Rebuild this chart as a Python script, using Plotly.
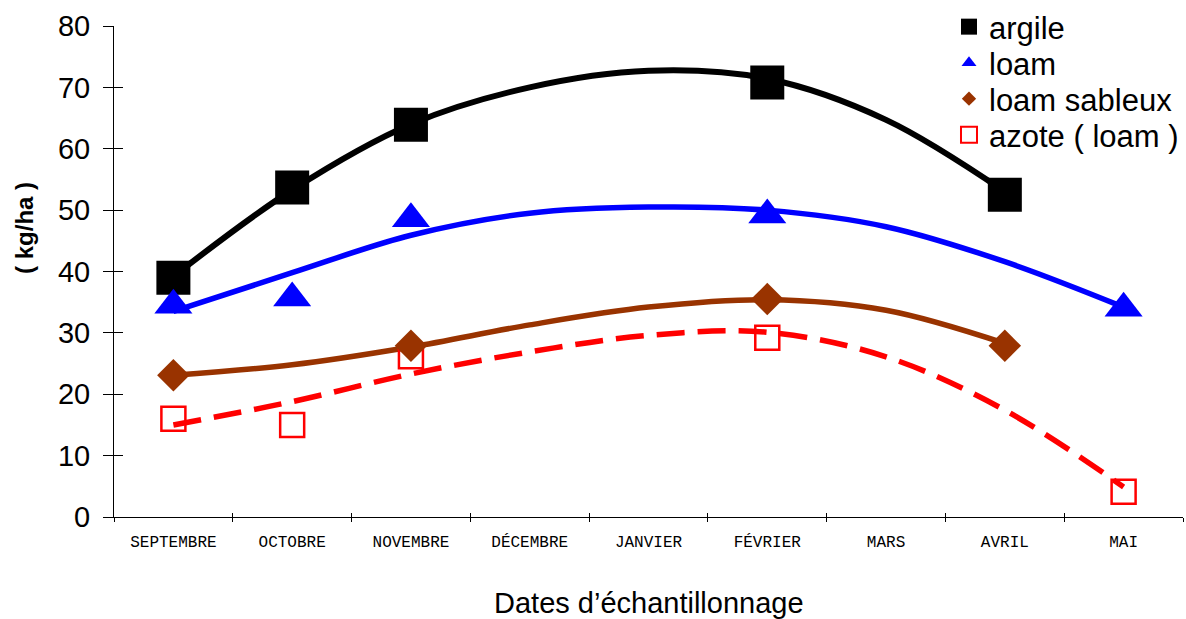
import plotly.graph_objects as go

months = ["SEPTEMBRE", "OCTOBRE", "NOVEMBRE", "DÉCEMBRE", "JANVIER",
          "FÉVRIER", "MARS", "AVRIL", "MAI"]

# measured points
argile_months = ["SEPTEMBRE", "OCTOBRE", "NOVEMBRE", "FÉVRIER", "AVRIL"]
argile_vals = [39.0, 53.7, 63.9, 70.8, 52.5]
loam_months = ["SEPTEMBRE", "OCTOBRE", "NOVEMBRE", "FÉVRIER", "MAI"]
loam_vals = [34.5, 35.7, 48.6, 49.2, 34.0]
sableux_months = ["SEPTEMBRE", "NOVEMBRE", "FÉVRIER", "AVRIL"]
sableux_vals = [23.1, 27.9, 35.5, 27.9]
azote_months = ["SEPTEMBRE", "OCTOBRE", "NOVEMBRE", "FÉVRIER", "MAI"]
azote_vals = [16.0, 15.0, 26.2, 29.2, 4.1]

# trend curves read at each month
argile_trend_months = months[:8]
argile_trend = [39.2, 53.3, 64.0, 70.0, 72.7, 71.4, 64.7, 53.0]
loam_trend_months = months
loam_trend = [33.5, 39.8, 45.9, 49.5, 50.5, 50.0, 47.3, 41.6, 34.2]
sableux_trend_months = months[:8]
sableux_trend = [23.1, 24.8, 27.7, 31.3, 34.2, 35.4, 33.7, 28.3]
azote_trend_months = months
azote_trend = [15.0, 18.8, 23.3, 26.9, 29.6, 30.1, 26.1, 17.4, 4.9]

y_ticks = [0, 10, 20, 30, 40, 50, 60, 70, 80]

idx = {m: i for i, m in enumerate(months)}


def xs(ms):
    return [idx[m] for m in ms]


BLACK = "#000000"
BLUE = "#0000FF"
BROWN = "#993300"
RED = "#FF0000"

fig = go.Figure()

# trend lines
fig.add_trace(go.Scatter(x=xs(argile_trend_months), y=argile_trend, mode="lines",
                         line=dict(color=BLACK, width=6, shape="spline"),
                         showlegend=False, hoverinfo="skip"))
fig.add_trace(go.Scatter(x=xs(loam_trend_months), y=loam_trend, mode="lines",
                         line=dict(color=BLUE, width=5.5, shape="spline"),
                         showlegend=False, hoverinfo="skip"))
fig.add_trace(go.Scatter(x=xs(sableux_trend_months), y=sableux_trend, mode="lines",
                         line=dict(color=BROWN, width=5.5, shape="spline"),
                         showlegend=False, hoverinfo="skip"))
fig.add_trace(go.Scatter(x=xs(azote_trend_months), y=azote_trend, mode="lines",
                         line=dict(color=RED, width=5.5, shape="spline", dash="28px,13px"),
                         showlegend=False, hoverinfo="skip"))

# markers
fig.add_trace(go.Scatter(x=xs(azote_months), y=azote_vals, mode="markers",
                         marker=dict(symbol="square-open", size=24, color=RED,
                                     line=dict(color=RED, width=2.5)),
                         showlegend=False))
fig.add_trace(go.Scatter(x=xs(argile_months), y=argile_vals, mode="markers",
                         marker=dict(symbol="square", size=34, color=BLACK),
                         showlegend=False))
fig.add_trace(go.Scatter(x=xs(loam_months), y=loam_vals, mode="markers",
                         marker=dict(symbol="triangle-up", size=33, color=BLUE),
                         showlegend=False))
fig.add_trace(go.Scatter(x=xs(sableux_months), y=sableux_vals, mode="markers",
                         marker=dict(symbol="diamond", size=25, color=BROWN),
                         showlegend=False))

# legend entries (one legend each, for exact spacing)
fig.add_trace(go.Scatter(x=[None], y=[None], mode="markers", name="argile",
                         legend="legend",
                         marker=dict(symbol="square", size=16, color=BLACK)))
fig.add_trace(go.Scatter(x=[None], y=[None], mode="markers", name="loam",
                         legend="legend2",
                         marker=dict(symbol="triangle-up", size=13, color=BLUE)))
fig.add_trace(go.Scatter(x=[None], y=[None], mode="markers", name="loam sableux",
                         legend="legend3",
                         marker=dict(symbol="diamond", size=11, color=BROWN)))
fig.add_trace(go.Scatter(x=[None], y=[None], mode="markers", name="azote ( loam )",
                         legend="legend4",
                         marker=dict(symbol="square-open", size=16, color=RED,
                                     line=dict(color=RED, width=2))))

# helper trace for overlay axes
fig.add_trace(go.Scatter(x=[None], y=[None], xaxis="x2", yaxis="y2",
                         showlegend=False, hoverinfo="skip"))

boundaries = [i - 0.5 for i in range(len(months) + 1)]


def leg(ypix):
    return dict(x=0.7811, y=(517 - ypix) / 491, xanchor="left", yanchor="middle",
                bgcolor="rgba(0,0,0,0)", font=dict(size=31, color="black"),
                itemsizing="trace")


fig.update_layout(
    width=1186, height=619,
    margin=dict(l=114, r=3, t=26, b=102, autoexpand=False),
    paper_bgcolor="white", plot_bgcolor="white",
    font=dict(family="Liberation Sans, Arial, sans-serif", color="black"),
    showlegend=True,
    legend=leg(27), legend2=leg(63), legend3=leg(99), legend4=leg(135),
    xaxis=dict(range=[-0.5, len(months) - 0.5], tickmode="array",
               tickvals=list(range(len(months))), ticktext=months,
               ticks="", showline=True, linecolor="black", linewidth=1,
               showgrid=False, zeroline=False,
               tickfont=dict(family="Liberation Mono, Courier New, monospace", size=16),
               ticklabelstandoff=10,
               minor=dict(tickmode="array", tickvals=boundaries, ticks="outside",
                          ticklen=4, tickcolor="black", tickwidth=1, showgrid=False)),
    xaxis2=dict(range=[-0.5, len(months) - 0.5], overlaying="x", anchor="y",
                tickmode="array", tickvals=boundaries, ticks="inside", ticklen=4,
                tickcolor="black", showticklabels=False, showline=False,
                showgrid=False, zeroline=False),
    yaxis=dict(range=[0, 80], tickmode="array", tickvals=y_ticks,
               ticks="outside", ticklen=10, tickcolor="black", tickwidth=1,
               showline=True, linecolor="black", linewidth=1,
               showgrid=False, zeroline=False,
               tickfont=dict(size=29), ticklabelstandoff=7),
    yaxis2=dict(range=[0, 80], overlaying="y", anchor="x", tickmode="array",
                tickvals=y_ticks, ticks="inside", ticklen=9, tickcolor="black",
                showticklabels=False, showline=False, showgrid=False, zeroline=False),
    annotations=[
        dict(text="<b>( kg/ha )</b>", xref="paper", yref="paper",
             x=-0.0833, y=0.5886, xanchor="center", yanchor="middle",
             textangle=-90, showarrow=False, font=dict(size=24)),
        dict(text="Dates d’échantillonnage", xref="paper", yref="paper",
             x=0.5, y=-0.176, xanchor="center", yanchor="middle",
             showarrow=False, font=dict(size=29)),
    ],
)

fig.write_html("out.html")
